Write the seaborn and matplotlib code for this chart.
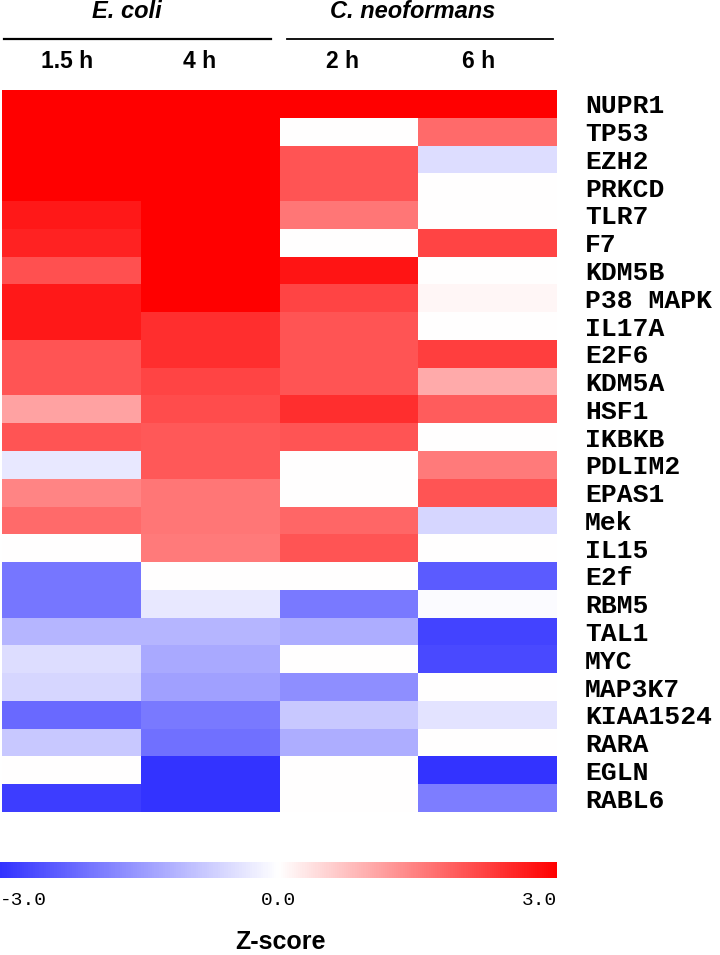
import numpy as np
import pandas as pd
import seaborn as sns
import matplotlib
matplotlib.use("Agg")
import matplotlib.pyplot as plt
from matplotlib.colors import LinearSegmentedColormap
from matplotlib.lines import Line2D

genes = ["NUPR1", "TP53", "EZH2", "PRKCD", "TLR7", "F7", "KDM5B", "P38 MAPK",
         "IL17A", "E2F6", "KDM5A", "HSF1", "IKBKB", "PDLIM2", "EPAS1", "Mek",
         "IL15", "E2f", "RBM5", "TAL1", "MYC", "MAP3K7", "KIAA1524", "RARA",
         "EGLN", "RABL6"]
time_labels = ["1.5 h", "4 h", "2 h", "6 h"]
group_labels = ["E. coli", "C. neoformans"]

ecoli_1_5h = [3.0, 3.0, 3.0, 3.0, 2.7, 2.6, 2.05, 2.7, 2.7, 2.0, 2.0, 1.1, 2.0,
              -0.35, 1.45, 1.75, 0.0, -2.0, -2.0, -1.1, -0.5, -0.6, -2.2, -0.8,
              0.0, -2.85]
ecoli_4h = [3.0, 3.0, 3.0, 3.0, 3.0, 3.0, 3.0, 3.0, 2.45, 2.45, 2.2, 2.1, 1.95,
            1.95, 1.6, 1.6, 1.55, 0.0, -0.35, -1.1, -1.25, -1.4, -1.95, -2.1,
            -3.0, -3.0]
cneo_2h = [3.0, 0.0, 2.0, 2.0, 1.6, 0.0, 2.75, 2.2, 2.0, 2.0, 2.0, 2.45, 2.0,
           0.0, 0.0, 1.8, 2.0, 0.0, -1.95, -1.2, 0.0, -1.65, -0.8, -1.2, 0.0, 0.0]
cneo_6h = [3.0, 1.75, -0.5, 0.0, 0.0, 2.2, 0.0, 0.1, 0.0, 2.25, 1.0, 1.9, 0.0,
           1.55, 2.0, -0.6, 0.0, -2.4, -0.05, -2.75, -2.65, 0.0, -0.4, 0.0,
           -3.0, -1.9]

df = pd.DataFrame({"1.5 h": ecoli_1_5h, "4 h": ecoli_4h,
                   "2 h": cneo_2h, "6 h": cneo_6h}, index=genes)

cmap = LinearSegmentedColormap.from_list("zs", ["#3333ff", "#ffffff", "#ff0000"])

W, H = 720, 955
fig = plt.figure(figsize=(W / 100, H / 100), dpi=100)

def fx(px):
    return px / W

def fy(py):
    return 1 - py / H

ax = fig.add_axes([fx(2), fy(812), fx(557) - fx(2), fy(90) - fy(812)])
cax = fig.add_axes([fx(0), fy(878), fx(557), fy(862) - fy(878)])

sns.heatmap(df, ax=ax, cmap=cmap, vmin=-3, vmax=3, cbar=True, cbar_ax=cax,
            cbar_kws={"orientation": "horizontal", "ticks": [-3, 0, 3]})

ax.set_xticks([])
ax.set_xlabel("")
ax.set_ylabel("")
ax.yaxis.tick_right()
ax.set_yticks(np.arange(len(genes)) + 0.5)
ax.set_yticklabels(genes, rotation=0, family="Liberation Mono",
                   fontweight="bold", fontsize=19, ha="left")
ax.tick_params(axis="y", length=0, pad=20)

cax.set_xticklabels(["-3.0", "0.0", "3.0"], family="Liberation Mono", fontsize=14)
cax.tick_params(axis="x", length=0, pad=10)
lbls = cax.get_xticklabels()
lbls[0].set_ha("left")
lbls[2].set_ha("right")
for s in cax.spines.values():
    s.set_visible(False)

fig.text(fx(280), fy(942), "Z-score", ha="center", va="center",
         family="Liberation Sans", fontweight="bold", fontsize=18)

# group headers
fig.text(fx(127), fy(11), group_labels[0], ha="center", va="center",
         family="Liberation Sans", fontweight="bold", style="italic", fontsize=17)
fig.text(fx(413), fy(11), group_labels[1], ha="center", va="center",
         family="Liberation Sans", fontweight="bold", style="italic", fontsize=17)
fig.add_artist(Line2D([fx(4), fx(271)], [fy(39), fy(39)], color="black", lw=1.6))
fig.add_artist(Line2D([fx(287), fx(553)], [fy(39), fy(39)], color="black", lw=1.3))

label_x = [67, 200, 342, 479]
for lab, cx in zip(time_labels, label_x):
    fig.text(fx(cx), fy(61), lab, ha="center", va="center",
             family="Liberation Sans", fontweight="bold", fontsize=16.5)

fig.savefig("out.png", dpi=100)
